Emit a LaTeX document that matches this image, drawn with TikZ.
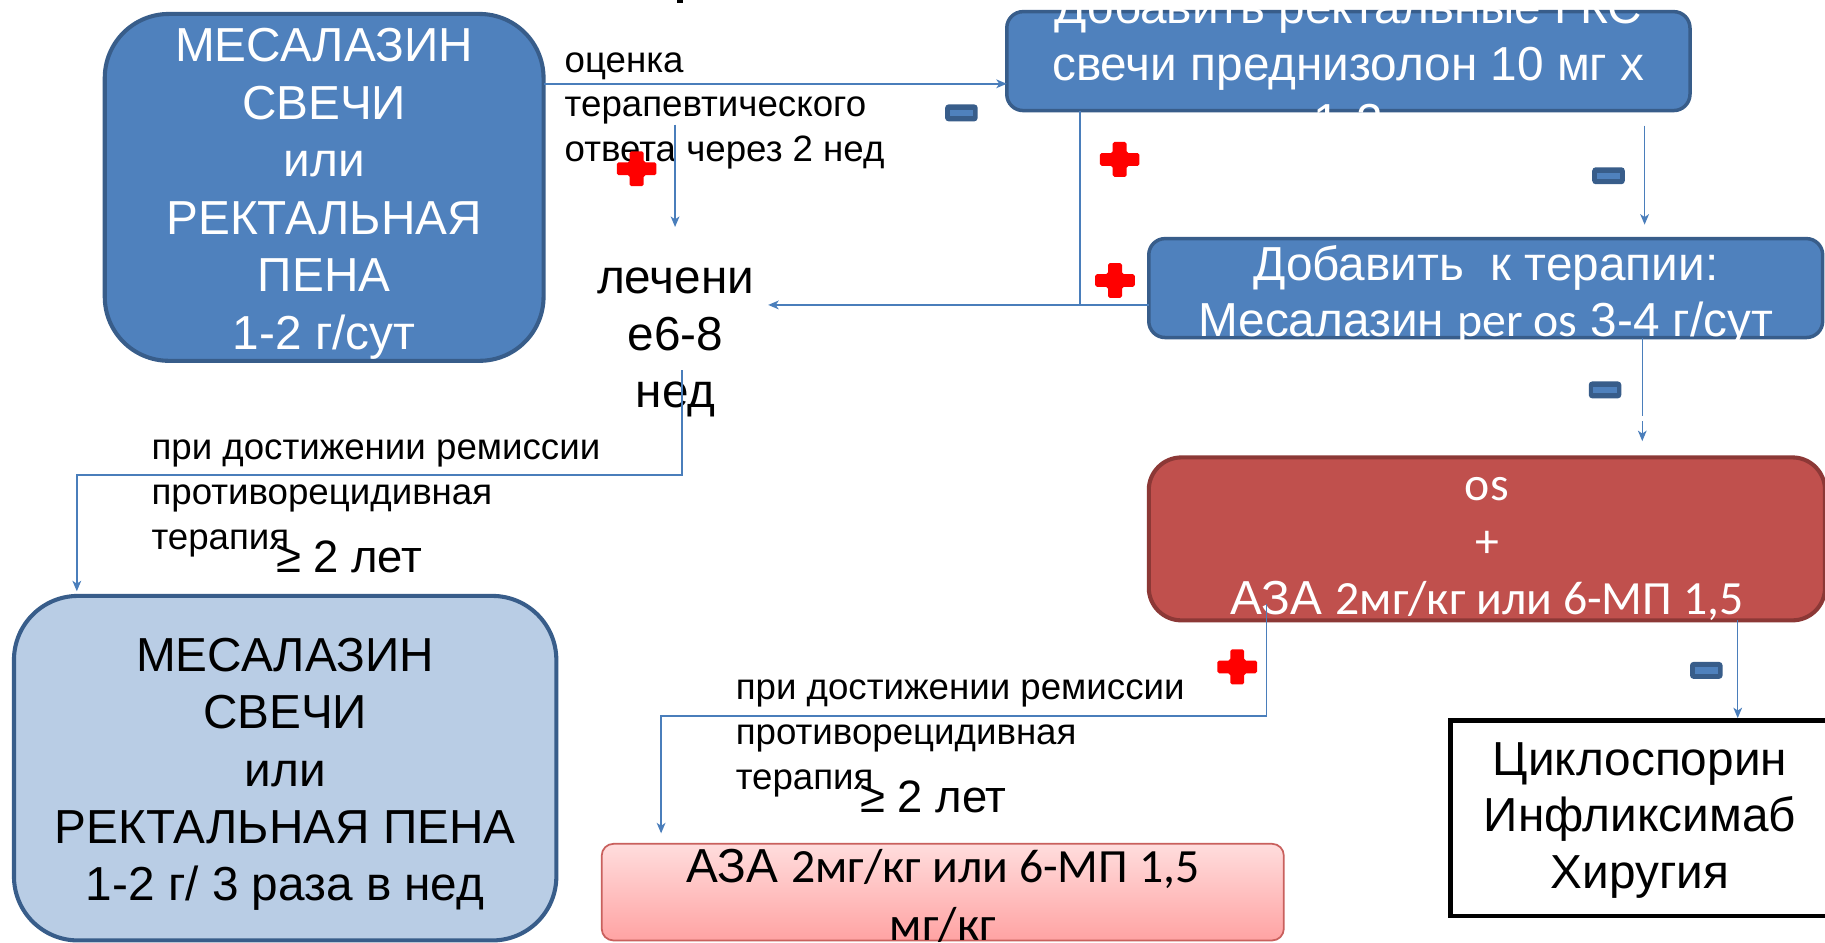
\documentclass[tikz,border=0pt]{standalone}
\usepackage{fontspec}
\setmainfont{Liberation Sans}
\newfontfamily\calfont{Carlito}
\usetikzlibrary{arrows.meta}
\definecolor{bfill}{HTML}{4F81BD}
\definecolor{bline}{HTML}{385D8A}
\definecolor{rfill}{HTML}{C0504D}
\definecolor{rline}{HTML}{8C3836}
\definecolor{lbfill}{HTML}{B9CDE5}
\definecolor{pinktop}{HTML}{FFDDDD}
\definecolor{pinkbot}{HTML}{FFA3A3}
\definecolor{pinkline}{HTML}{C9605D}
\definecolor{conncol}{HTML}{4A7EBB}
\definecolor{crossred}{HTML}{FF0000}
\tikzset{
  box/.style={draw, inner sep=0pt, outer sep=0pt},
  bluebox/.style={box, fill=bfill, draw=bline, line width=3pt},
  bigtxt/.style={font=\fontsize{41}{49.4}\selectfont, align=center, inner sep=0pt, anchor=base},
  smalltxt/.style={font=\fontsize{31.5}{38.5}\selectfont, align=left, inner sep=0pt, anchor=base west},
  geqtxt/.style={font=\fontsize{39}{46}\selectfont, inner sep=0pt, anchor=base west},
  conn/.style={draw=conncol, line width=1.3pt, -{Stealth[length=9pt,width=7.5pt,inset=2.5pt]}},
  plain/.style={draw=conncol, line width=1.3pt},
  plusmark/.pic={\fill[crossred, rounded corners=1.5pt] (-6,-15) -- (6,-15) -- (6,-5.5) -- (17,-5.5) -- (17,5.5) -- (6,5.5) -- (6,15) -- (-6,15) -- (-6,5.5) -- (-17,5.5) -- (-17,-5.5) -- (-6,-5.5) -- cycle;},
  minusmark/.pic={\fill[bline, rounded corners=3pt] (-14,-7.3) rectangle (14,7.3); \fill[bfill] (-10,-2.7) rectangle (10,2.7);}
}
\begin{document}
\begin{tikzpicture}[x=1pt,y=-1pt]
\useasboundingbox (0,0) rectangle (1568,810);
\fill[white] (0,0) rectangle (1568,810);
% title fragment
\fill[black] (582,0) rectangle (587,2.5);
% boxes
\node[bluebox, line width=3.5pt, rounded corners=55pt, minimum width=377pt, minimum height=298pt] (A) at (278.5,161) {};
\node[bluebox, rounded corners=14pt, minimum width=587pt, minimum height=85pt] (B) at (1158.5,52.5) {};
\node[bluebox, rounded corners=14pt, minimum width=579pt, minimum height=85pt] (D) at (1276.5,247.5) {};
\node[box, fill=rfill, draw=rline, line width=3.5pt, rounded corners=28pt, minimum width=581pt, minimum height=140pt] (C) at (1277.5,463) {};
\node[box, fill=lbfill, draw=bline, line width=3.5pt, rounded corners=55pt, minimum width=466pt, minimum height=296pt] (E) at (245,660) {};
\node[box, top color=pinktop, bottom color=pinkbot, draw=pinkline, line width=1.5pt, rounded corners=10pt, minimum width=586pt, minimum height=83pt] (F) at (810,766.5) {};
\node[box, fill=white, draw=black, line width=4pt, minimum width=328pt, minimum height=168pt] (G) at (1410,703) {};
% box texts (anchor = baseline of last line)
\node[bigtxt, text=white] (Atxt) at (278.5,300) {МЕСАЛАЗИН\\СВЕЧИ\\или\\РЕКТАЛЬНАЯ\\ПЕНА\\1-2 г/сут};
\node[bigtxt, text=white, font=\fontsize{41}{49}\selectfont] (Btxt) at (1158.5,118) {Добавить ректальные ГКС\\свечи преднизолон 10 мг х\\1-2};
\node[bigtxt, text=white, font=\fontsize{41}{48}\selectfont] (Dtxt) at (1276.5,289) {Добавить\ \ к терапии:\\Месалазин {\calfont per os} 3-4 г/сут};
\node[bigtxt, text=white, font=\fontsize{41}{49}\selectfont] (Ctxt) at (1277.5,528) {{\calfont os}\\{\calfont +}\\АЗА {\calfont 2мг/кг или 6-МП 1,5}};
\node[bigtxt, font=\fontsize{41}{49.3}\selectfont] (Etxt) at (245,774) {МЕСАЛАЗИН\\СВЕЧИ\\или\\РЕКТАЛЬНАЯ ПЕНА\\1-2 г/ 3 раза в нед};
\node[bigtxt, font=\fontsize{41}{50}\selectfont] (Ftxt) at (810,808) {АЗА {\calfont 2мг/кг или 6-МП 1,5}\\{\calfont мг/кг}};
\node[bigtxt, font=\fontsize{41}{48.5}\selectfont] (Gtxt) at (1409,763) {Циклоспорин\\Инфликсимаб\\Хиругия};
\node[bigtxt, font=\fontsize{41}{49}\selectfont] (L) at (580.5,350) {лечени\\е6-8\\нед};
% labels
\node[smalltxt] (lab1) at (485,139) {оценка\\терапевтического\\ответа через 2 нед};
\node[smalltxt] (lab2) at (130,472) {при достижении ремиссии\\противорецидивная\\терапия};
\node[geqtxt] (geq2) at (237,492) {≥ 2 лет};
\node[smalltxt] (lab3) at (632,678) {при достижении ремиссии\\противорецидивная\\терапия};
\node[geqtxt] (geq3) at (739,698) {≥ 2 лет};
% connector ends
\coordinate (c2s) at (580,107);
\coordinate (c2e) at (580,195);
\coordinate (c3e) at (660,262);
\coordinate (c3j) at (928,262);
\coordinate (c6s) at (1088,519);
\coordinate (c8s) at (586,318);
% connectors
\draw[conn] (A.east |- 0,72) -- (B.west |- 0,72);
\draw[conn] (c2s) -- (c2e);
\draw[conn] (D.west |- c3e) -- (c3e);
\draw[plain] (B.south -| c3j) -- (c3j);
\draw[conn, shorten <=13pt, shorten >=12pt] (B.south -| 1413,0) -- (D.north -| 1413,0);
\draw[conn, shorten >=14pt, dash pattern=on 67pt off 5pt on 300pt] (D.south -| 1411,0) -- (C.north -| 1411,0);
\draw[conn, shorten >=9pt] (c6s) -- (1088,615) -- (568,615) -- (F.north -| 568,0);
\draw[conn, shorten >=2pt] (C.south -| 1493,0) -- (G.north -| 1493,0);
\draw[conn, shorten >=4pt] (c8s) -- (586,408) -- (66,408) -- (E.north -| 66,0);
% markers
\pic at (547,145) {plusmark};
\pic at (962,137) {plusmark};
\pic at (958,241) {plusmark};
\pic at (1063,573) {plusmark};
\pic at (826,97) {minusmark};
\pic at (1382,151) {minusmark};
\pic at (1379,335) {minusmark};
\pic at (1466,576) {minusmark};
\end{tikzpicture}
\end{document}
